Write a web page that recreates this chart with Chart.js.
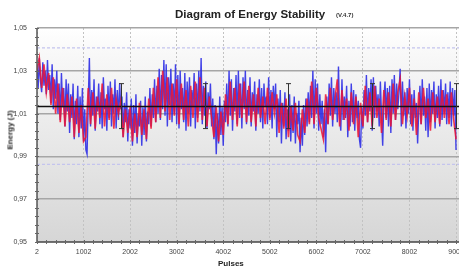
<!DOCTYPE html>
<html>
<head>
<meta charset="utf-8">
<script src="https://cdn.jsdelivr.net/npm/chart.js@4.4.1/dist/chart.umd.min.js"></script>
<style>
  html, body { margin: 0; padding: 0; background: #fff; overflow: hidden; width: 459px; height: 267px; }
  #wrap { position: relative; width: 504px; height: 267px; }
  canvas { position: absolute; left: 0; top: 0; }
  .txt { position: absolute; font-family: "Liberation Sans", Arial, sans-serif; color: #222; white-space: nowrap; }
  #title { left: 175px; top: 8px; font-size: 11.5px; font-weight: bold; }
  #ver { left: 336px; top: 12px; font-size: 6px; font-weight: bold; color: #333; }
  #ytitle { left: 10px; top: 130px; font-size: 8px; font-weight: bold; transform: translate(-50%, -50%) rotate(-90deg); }
  #xtitle { left: 218px; top: 259px; font-size: 8px; font-weight: bold; }
</style>
</head>
<body>
<div id="wrap">
  <canvas id="EnergyChart" width="504" height="267"></canvas>
  <div class="txt" id="title">Diagram of Energy Stability</div>
  <div class="txt" id="ver">(V.4.7)</div>
  <div class="txt" id="ytitle">Energy (J)</div>
  <div class="txt" id="xtitle">Pulses</div>
</div>
<script>
// first pulse number and sample spacing of each series
const pulseStart = 2
const blueStep = 25
const redStep = 50

const energyBlue = [
	1.031, 1.022, 1.036, 1.025, 1.020, 1.034, 1.023, 1.030, 1.019, 1.035,
	1.021, 1.028, 1.015, 1.033, 1.012, 1.026, 1.017, 1.030, 1.010, 1.024,
	1.007, 1.029, 1.013, 1.022, 1.004, 1.026, 1.011, 1.024, 1.001, 1.019,
	1.008, 1.024, 0.998, 1.016, 1.005, 1.023, 0.999, 1.018, 1.003, 1.022,
	0.997, 1.012, 0.993, 0.991, 1.015, 1.036, 1.004, 1.021, 1.009, 1.026,
	1.002, 1.018, 1.011, 1.024, 1.005, 1.020, 1.003, 1.027, 1.012, 1.017,
	1.002, 1.023, 1.008, 1.025, 1.004, 1.019, 1.010, 1.026, 1.003, 1.021,
	1.007, 1.024, 1.012, 1.018, 0.999, 1.015, 1.006, 1.020, 0.997, 1.012,
	1.003, 1.017, 0.995, 1.014, 1.001, 1.019, 0.996, 1.010, 1.004, 1.016,
	0.995, 1.013, 1.000, 1.018, 0.997, 1.011, 1.005, 1.022, 1.004, 1.019,
	1.008, 1.026, 1.006, 1.023, 1.010, 1.031, 1.007, 1.028, 1.012, 1.035,
	1.009, 1.033, 1.004, 1.027, 1.014, 1.031, 1.006, 1.024, 1.010, 1.033,
	1.005, 1.028, 1.003, 1.030, 1.012, 1.022, 1.006, 1.029, 1.002, 1.025,
	1.010, 1.027, 1.004, 1.021, 1.013, 1.029, 1.003, 1.024, 1.008, 1.030,
	1.011, 1.036, 1.005, 1.023, 1.009, 1.025, 1.003, 1.020, 1.012, 1.024,
	1.004, 1.017, 0.998, 1.014, 0.991, 1.010, 0.996, 1.018, 1.000, 1.013,
	0.995, 1.016, 1.006, 1.024, 1.004, 1.030, 1.009, 1.026, 1.002, 1.022,
	1.011, 1.028, 1.005, 1.030, 1.008, 1.024, 1.003, 1.027, 1.012, 1.030,
	1.005, 1.021, 1.009, 1.027, 1.004, 1.020, 1.011, 1.025, 1.002, 1.019,
	1.010, 1.026, 1.006, 1.022, 1.003, 1.024, 1.013, 1.018, 1.005, 1.027,
	1.008, 1.021, 1.003, 1.023, 1.012, 1.024, 0.999, 1.017, 1.006, 1.021,
	0.996, 1.015, 1.004, 1.020, 0.998, 1.012, 1.002, 1.019, 0.997, 1.014,
	1.001, 1.018, 0.996, 1.010, 1.005, 1.016, 0.992, 1.008, 0.995, 1.014,
	1.000, 1.017, 1.004, 1.020, 1.006, 1.023, 1.008, 1.030, 1.003, 1.026,
	1.010, 1.024, 1.002, 1.019, 1.005, 1.016, 0.999, 1.012, 0.992, 1.018,
	1.005, 1.024, 1.009, 1.027, 1.004, 1.022, 1.010, 1.020, 1.006, 1.032,
	1.008, 1.002, 1.026, 1.007, 1.018, 1.008, 1.023, 0.999, 1.016, 1.004,
	1.024, 1.006, 1.021, 1.002, 1.019, 1.008, 1.016, 0.998, 0.994, 1.013,
	1.003, 1.021, 1.009, 1.028, 1.006, 1.022, 1.011, 1.026, 1.002, 1.027,
	1.008, 1.023, 1.011, 1.019, 1.004, 1.025, 1.009, 0.995, 1.017, 1.025,
	1.008, 1.022, 1.004, 1.023, 1.001, 1.026, 1.010, 1.028, 1.007, 1.024,
	1.012, 1.020, 1.031, 1.004, 1.025, 1.009, 1.020, 1.003, 1.022, 1.010,
	1.026, 1.005, 1.019, 1.002, 1.021, 1.008, 1.015, 0.996, 1.012, 1.023,
	1.005, 1.026, 1.009, 1.018, 1.002, 1.022, 0.999, 1.024, 1.006, 1.021,
	1.010, 1.025, 1.003, 1.019, 1.008, 1.023, 1.004, 1.026, 1.007, 1.021,
	1.010, 1.024, 1.005, 1.020, 1.008, 1.025, 1.004, 1.022, 1.009, 1.021,
	0.993,
]

// averaged energy (J), one sample every 50 pulses
const energyRed = [
	1.030, 1.036, 1.022, 1.033, 1.020, 1.029,
	1.014, 1.027, 1.010, 1.024, 1.006, 1.022, 1.004, 1.019,
	1.006, 1.018, 0.999, 1.017, 1.001, 1.014, 0.997, 0.999,
	1.022, 1.005, 1.020, 1.003, 1.018, 1.008, 1.024, 1.004, 1.019, 1.007, 1.022, 1.003, 1.017, 1.010,
	1.016, 0.999, 1.012, 1.001, 1.013, 0.997, 1.010, 0.999, 1.015, 1.000, 1.012, 0.998,
	1.017, 1.003, 1.022, 1.006, 1.027, 1.008, 1.030, 1.011,
	1.027, 1.007, 1.024, 1.009, 1.026,
	1.005, 1.024, 1.007, 1.021, 1.004, 1.023, 1.008, 1.025, 1.006, 1.027,
	1.007, 1.022, 1.004, 1.018, 1.008,
	0.999, 1.013, 0.997, 1.011, 1.000,
	1.019, 1.005, 1.025, 1.007, 1.022, 1.004, 1.024, 1.008, 1.025, 1.006,
	1.023, 1.006, 1.019, 1.004, 1.022, 1.008, 1.018, 1.005, 1.022, 1.007, 1.020, 1.010,
	1.019, 1.001, 1.015, 1.003, 1.017, 0.999, 1.013, 1.002, 1.015, 1.000,
	0.997, 1.012, 1.001, 1.017, 1.005,
	1.025, 1.005, 1.022, 1.008,
	1.003, 0.998, 1.019, 1.005, 1.022, 1.007, 1.017,
	1.026,
	1.004, 1.021, 1.007, 1.017, 1.002, 1.020, 1.005, 1.018, 0.999, 1.015, 1.004,
	1.023, 1.006, 1.020, 1.004, 1.023, 1.008, 1.017, 1.001, 1.021, 1.007,
	1.020, 1.004, 1.024, 1.007, 1.020, 1.026, 1.005, 1.018, 1.009,
	1.022, 1.004, 1.017, 1.000, 1.020, 1.005, 1.022, 1.008, 1.017, 1.002, 1.020, 1.006, 1.018,
	1.005, 1.021, 1.008, 1.019, 1.005, 1.020, 1.007,
	0.998,
]

const meanEnergy = 1.0133
const limitHigh = 1.0407
const limitLow = 0.9863

// standard deviation bars
const errPulses = [1802, 3602, 5402, 7202, 9002]
const errLow = [1.003, 1.003, 1.003, 1.003, 1.003]
const errHigh = [1.024, 1.024, 1.024, 1.024, 1.024]

const xTicks = [2, 1002, 2002, 3002, 4002, 5002, 6002, 7002, 8002, 9002]
const yTicks = [0.95, 0.97, 0.99, 1.01, 1.03, 1.05]
const xMin = 2
const xMax = 9925

const toPoints = (arr, step) => arr.map((v, i) => ({ x: pulseStart + i * step, y: v }))
const hLine = (v) => [{ x: xMin, y: v }, { x: xMax, y: v }]

const plotBackground = {
	id: "plotBackground",
	beforeDraw(chart) {
		const { ctx, chartArea: a } = chart
		const g = ctx.createLinearGradient(0, a.top, 0, a.bottom)
		g.addColorStop(0, "#ffffff")
		g.addColorStop(0.12, "#f8f8f8")
		g.addColorStop(1, "#d6d6d6")
		ctx.save()
		ctx.fillStyle = g
		ctx.fillRect(a.left, a.top, a.right - a.left, a.bottom - a.top)
		ctx.restore()
	},
}

const axisExtras = {
	id: "axisExtras",
	afterDraw(chart) {
		const { ctx, chartArea: a } = chart
		const xs = chart.scales.x
		const ys = chart.scales.y
		ctx.save()
		// axis lines
		ctx.strokeStyle = "#555"
		ctx.lineWidth = 1.5
		ctx.beginPath()
		ctx.moveTo(a.left, a.top)
		ctx.lineTo(a.left, a.bottom)
		ctx.lineTo(a.right, a.bottom)
		ctx.stroke()
		// minor ticks
		ctx.lineWidth = 1
		ctx.strokeStyle = "#666"
		for (let v = 0.95; v <= 1.0501; v += 0.004) {
			const y = Math.round(ys.getPixelForValue(v)) + 0.5
			ctx.beginPath()
			ctx.moveTo(a.left - 2, y)
			ctx.lineTo(a.left + 2, y)
			ctx.stroke()
		}
		for (let p = 2; p <= xMax; p += 200) {
			const x = Math.round(xs.getPixelForValue(p)) + 0.5
			ctx.beginPath()
			ctx.moveTo(x, a.bottom - 2)
			ctx.lineTo(x, a.bottom + 2)
			ctx.stroke()
		}
		// deviation bars
		ctx.strokeStyle = "#333"
		ctx.lineWidth = 1
		errPulses.forEach((p, i) => {
			const x = Math.round(xs.getPixelForValue(p)) + 0.5
			const y1 = ys.getPixelForValue(errHigh[i])
			const y2 = ys.getPixelForValue(errLow[i])
			ctx.beginPath()
			ctx.moveTo(x, y1)
			ctx.lineTo(x, y2)
			ctx.moveTo(x - 2.5, y1)
			ctx.lineTo(x + 2.5, y1)
			ctx.moveTo(x - 2.5, y2)
			ctx.lineTo(x + 2.5, y2)
			ctx.stroke()
		})
		ctx.restore()
	},
}

const ctx = document.getElementById("EnergyChart").getContext("2d")

new Chart(ctx, {
	type: "line",
	data: {
		datasets: [
			{
				label: "Mean",
				data: hLine(meanEnergy),
				borderColor: "#111",
				borderWidth: 1.5,
				pointRadius: 0,
			},
			{
				label: "Average",
				data: toPoints(energyRed, redStep),
				borderColor: "rgba(238, 20, 50, 0.85)",
				borderWidth: 1.6,
				pointRadius: 0,
				tension: 0,
			},
			{
				label: "Energy",
				data: toPoints(energyBlue, blueStep),
				borderColor: "rgba(45, 45, 230, 0.9)",
				borderWidth: 1.4,
				pointRadius: 0,
				tension: 0,
			},
			{
				label: "Upper limit",
				data: hLine(limitHigh),
				borderColor: "#c4c4ee",
				borderWidth: 1.2,
				borderDash: [3, 2],
				pointRadius: 0,
			},
			{
				label: "Lower limit",
				data: hLine(limitLow),
				borderColor: "#c4c4ee",
				borderWidth: 1.2,
				borderDash: [3, 2],
				pointRadius: 0,
			},
		],
	},
	options: {
		responsive: false,
		animation: false,
		layout: { padding: { left: 0, top: 28, right: 5, bottom: 0 } },
		plugins: {
			legend: { display: false },
			tooltip: { enabled: false },
			title: { display: false },
		},
		scales: {
			x: {
				type: "linear",
				min: xMin,
				max: xMax,
				afterBuildTicks: (scale) => {
					scale.ticks = xTicks.map((v) => ({ value: v }))
				},
				afterFit: (scale) => {
					scale.height = 25
				},
				ticks: {
					autoSkip: false,
					maxRotation: 0,
					padding: 6,
					color: "#444",
					font: { family: "Liberation Sans", size: 7 },
					callback: (v) => String(v),
				},
				grid: { color: "#c2c2c2", lineWidth: 1, drawTicks: false },
				border: { display: false, dash: [2, 2] },
			},
			y: {
				min: 0.95,
				max: 1.05,
				afterBuildTicks: (scale) => {
					scale.ticks = yTicks.map((v) => ({ value: v }))
				},
				afterFit: (scale) => {
					scale.width = 37
				},
				ticks: {
					padding: 10,
					color: "#444",
					font: { family: "Liberation Sans", size: 7 },
					callback: (v) => Number(v).toFixed(2).replace(".", ","),
				},
				grid: { color: "#a6a6a6", lineWidth: 1.5, drawTicks: false },
				border: { display: false },
			},
		},
	},
	plugins: [plotBackground, axisExtras],
})
</script>
</body>
</html>
